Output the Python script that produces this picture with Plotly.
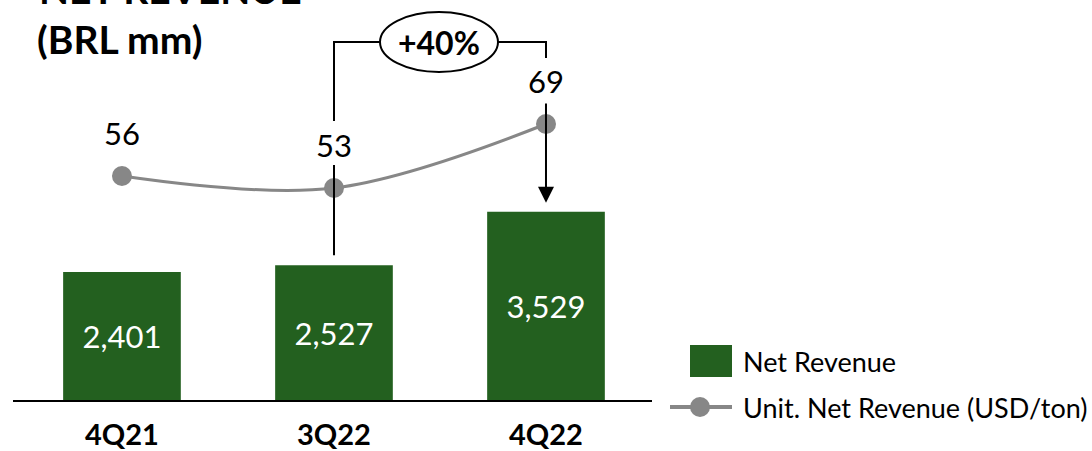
import plotly.graph_objects as go

# Quarterly figures
quarters = ["4Q21", "3Q22", "4Q22"]
net_revenue = [2401, 2527, 3529]          # BRL mm
unit_net_revenue = [56, 53, 69]           # USD/ton
growth_label = "+40%"

W, H = 1092, 451
GREEN = "#23601f"
GREY = "#878787"
FONT = "Lato"

# pixel -> paper helpers
def px(x):
    return x / W

def py(y):
    return 1 - y / H

Y_BOTTOM_PX = 400
BAR_MAX = 7500
LINE_MAX = 100

def bar_px(v):
    return Y_BOTTOM_PX - v / BAR_MAX * Y_BOTTOM_PX

def line_px(v):
    return Y_BOTTOM_PX - v / LINE_MAX * Y_BOTTOM_PX

fig = go.Figure()

fig.add_trace(go.Bar(
    x=quarters, y=net_revenue, name="Net Revenue",
    marker=dict(color=GREEN, line=dict(width=0)),
    width=0.555,
    text=[f"{v:,}" for v in net_revenue],
    textposition="inside", insidetextanchor="middle",
    textfont=dict(family=FONT, size=31, color="white"),
    showlegend=False,
))

fig.add_trace(go.Scatter(
    x=quarters, y=unit_net_revenue, yaxis="y2",
    name="Unit. Net Revenue (USD/ton)",
    mode="lines+markers",
    line=dict(color=GREY, width=3, shape="spline", smoothing=1),
    marker=dict(color=GREY, size=20),
    showlegend=False,
))

annotations = []
shapes = []

# value labels above the unit revenue points
for q, v in zip(quarters, unit_net_revenue):
    annotations.append(dict(
        x=q, y=v, xref="x", yref="y2", text=str(v), showarrow=False,
        yshift=43, font=dict(family=FONT, size=31, color="black"),
    ))

# growth bracket between 3Q22 and 4Q22
BRACKET_Y = 42
x_from = quarters.index("3Q22")
x_to = quarters.index("4Q22")
ell_cx, ell_rx, ell_ry = 439, 59, 30
x_center_px = lambda i: 122 + 212 * i


def vline(xp, y_top, y_bottom):
    shapes.append(dict(
        type="line", xref="paper", yref="paper",
        x0=px(xp), x1=px(xp), y0=py(y_bottom), y1=py(y_top),
        line=dict(color="black", width=2),
    ))


def hline(x_left, x_right, yp):
    shapes.append(dict(
        type="line", xref="paper", yref="paper",
        x0=px(x_left), x1=px(x_right), y0=py(yp), y1=py(yp),
        line=dict(color="black", width=2),
    ))


# left leg: broken around the 3Q22 value label
from_pt = line_px(unit_net_revenue[x_from])
vline(x_center_px(x_from), BRACKET_Y, from_pt - 67)
vline(x_center_px(x_from), from_pt - 23, bar_px(net_revenue[x_from]) - 10)
hline(x_center_px(x_from) - 1, ell_cx - ell_rx, BRACKET_Y)
hline(ell_cx + ell_rx, x_center_px(x_to) + 1, BRACKET_Y)
vline(x_center_px(x_to), BRACKET_Y, line_px(unit_net_revenue[x_to]) - 66)

shapes.append(dict(
    type="circle", xref="paper", yref="paper",
    x0=px(ell_cx - ell_rx), x1=px(ell_cx + ell_rx),
    y0=py(BRACKET_Y + ell_ry), y1=py(BRACKET_Y - ell_ry),
    line=dict(color="black", width=2), fillcolor="white", layer="above",
))
annotations.append(dict(
    x=px(ell_cx), y=py(BRACKET_Y), xref="paper", yref="paper",
    text=f"<b>{growth_label}</b>", showarrow=False,
    xanchor="center", yanchor="middle",
    font=dict(family=FONT, size=32, color="black"),
))

# arrow from the 4Q22 label down to the 4Q22 bar
arrow_tail_px = line_px(unit_net_revenue[x_to]) - 22
arrow_tip_px = bar_px(net_revenue[x_to])
annotations.append(dict(
    x=quarters[x_to], y=net_revenue[x_to], xref="x", yref="y",
    ax=0, ay=-(arrow_tip_px - arrow_tail_px), axref="pixel", ayref="pixel",
    showarrow=True, arrowhead=2, arrowsize=1.6, arrowwidth=2,
    arrowcolor="black", standoff=9, text="",
))

# title
annotations.append(dict(
    x=px(37), y=py(-11), xref="paper", yref="paper",
    text="<b>NET REVENUE</b>", showarrow=False,
    xanchor="left", yanchor="middle",
    font=dict(family=FONT, size=39, color="black"),
))
annotations.append(dict(
    x=px(35), y=py(39), xref="paper", yref="paper",
    text="<b>(BRL mm)</b>", showarrow=False,
    xanchor="left", yanchor="middle",
    font=dict(family=FONT, size=39, color="black"),
))

# legend
shapes.append(dict(
    type="rect", xref="paper", yref="paper",
    x0=px(690), x1=px(732), y0=py(377), y1=py(345),
    fillcolor=GREEN, line=dict(width=0),
))
shapes.append(dict(
    type="line", xref="paper", yref="paper",
    x0=px(670), x1=px(732), y0=py(407), y1=py(407),
    line=dict(color=GREY, width=4),
))
shapes.append(dict(
    type="circle", xref="paper", yref="paper",
    x0=px(690), x1=px(710), y0=py(417), y1=py(397),
    fillcolor=GREY, line=dict(width=0),
))
annotations.append(dict(
    x=px(741), y=py(361), xref="paper", yref="paper",
    text="Net Revenue", showarrow=False, xanchor="left", yanchor="middle",
    font=dict(family=FONT, size=27, color="black"),
))
annotations.append(dict(
    x=px(741), y=py(407), xref="paper", yref="paper",
    text="Unit. Net Revenue (USD/ton)", showarrow=False,
    xanchor="left", yanchor="middle",
    font=dict(family=FONT, size=27, color="black"),
))

fig.update_layout(
    width=W, height=H,
    margin=dict(l=0, r=0, t=0, b=0, autoexpand=False),
    paper_bgcolor="white", plot_bgcolor="white",
    showlegend=False,
    bargap=0.3,
    xaxis=dict(
        domain=[px(13), px(652)],
        range=[-0.514, 2.5],
        showline=True, linecolor="black", linewidth=2,
        showgrid=False, zeroline=False, ticks="",
        tickfont=dict(family=FONT, size=29, color="black"),
        ticklabelstandoff=8,
        tickvals=quarters,
        ticktext=[f"<b>{q}</b>" for q in quarters],
        automargin=False,
    ),
    yaxis=dict(
        domain=[1 - Y_BOTTOM_PX / H, 1],
        range=[0, BAR_MAX], visible=False, showgrid=False,
    ),
    yaxis2=dict(
        domain=[1 - Y_BOTTOM_PX / H, 1],
        range=[0, LINE_MAX], overlaying="y", visible=False, showgrid=False,
    ),
    shapes=shapes,
    annotations=annotations,
)

fig.write_html("out.html")
